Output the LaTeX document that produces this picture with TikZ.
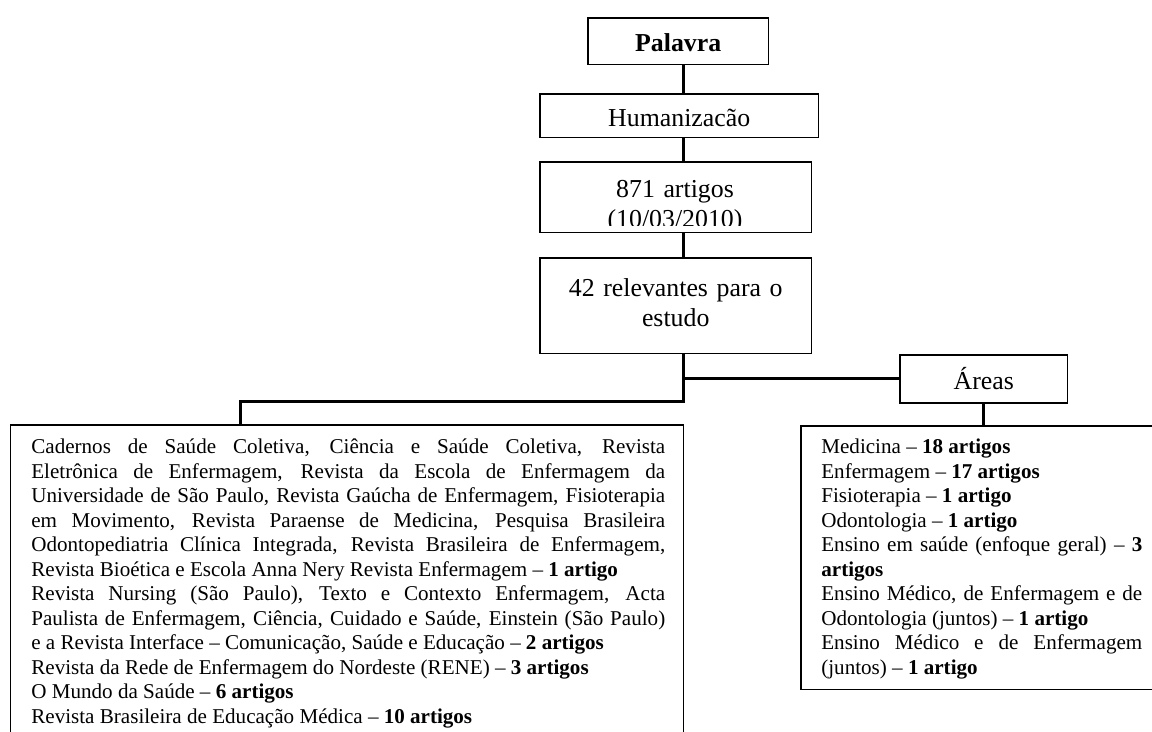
\documentclass[tikz,border=0pt]{standalone}
\usepackage{fontspec}
\setmainfont{Liberation Serif}
\usepackage{tikz}
\setlength{\parindent}{0pt}
\tolerance=10000
\hbadness=10000
\hyphenpenalty=10000

\tikzset{
  box/.style={draw, line width=0.03cm, inner sep=0pt, anchor=north west},
  link/.style={line width=0.06cm},
  headtext/.style={font=\fontsize{14.7}{17}\selectfont, align=center},
  headbox/.style={box, headtext, text height=12pt, text depth=0pt},
  bodytext/.style={font=\fontsize{12}{13.95}\selectfont, inner sep=0pt, anchor=north west, align=justify},
}

\begin{document}
\begin{tikzpicture}[x=0.02cm, y=-0.02cm]
    \useasboundingbox (0,0) rectangle (1152,731);
    \clip (0,0) rectangle (1152,731);
    \fill[white] (0,0) rectangle (1152,731);

    \coordinate (fork) at (683,401);
    \coordinate (jdrop) at (240,401);

    \node[headbox, minimum width=3.62cm, minimum height=0.94cm] (palavra) at (587,17) {\textbf{Palavra}};
    \node[headbox, minimum width=5.58cm, minimum height=0.88cm] (human) at (539,93) {Humanizacão};
    \node[box, minimum width=5.44cm, minimum height=1.42cm] (artigos) at (539,161) {};
    \begin{scope}
        \clip (artigos.north west) rectangle ([yshift=0.16cm]artigos.south east);
        \node[headtext, anchor=north, text width=5.44cm, inner sep=0pt] (artigostxt) at (675,176)
            {\strut 871 artigos\\(10/03/2010)};
    \end{scope}
    \node[box, headtext, text width=5.44cm, minimum height=1.92cm] (relev) at (539,257)
        {\strut 42 relevantes para o\\estudo\strut};
    \node[headbox, minimum width=3.36cm, minimum height=0.96cm] (areas) at (899,354) {Áreas};

    \node[box, minimum width=13.46cm, minimum height=6.8cm] (journals) at (10,424) {};
    \node[bodytext, text width=12.68cm] (journalstxt) at (31,436) {\strut Cadernos de Saúde Coletiva, Ciência e Saúde Coletiva, Revista\linebreak
        Eletrônica de Enfermagem, Revista da Escola de Enfermagem da\linebreak
        Universidade de São Paulo, Revista Gaúcha de Enfermagem, Fisioterapia\linebreak
        em Movimento, Revista Paraense de Medicina, Pesquisa Brasileira\linebreak
        Odontopediatria Clínica Integrada, Revista Brasileira de Enfermagem,\linebreak
        Revista Bioética e Escola Anna Nery Revista Enfermagem – \textbf{1 artigo}\par
        Revista Nursing (São Paulo), Texto e Contexto Enfermagem, Acta\linebreak
        Paulista de Enfermagem, Ciência, Cuidado e Saúde, Einstein (São Paulo)\linebreak
        e a Revista Interface – Comunicação, Saúde e Educação – \textbf{2 artigos}\par
        Revista da Rede de Enfermagem do Nordeste (RENE) – \textbf{3 artigos}\par
        O Mundo da Saúde – \textbf{6 artigos}\par
        Revista Brasileira de Educação Médica – \textbf{10 artigos}};

    \node[box, minimum width=8cm, minimum height=5.28cm] (fields) at (800,425) {};
    \begin{scope}
        \clip (fields.north west) rectangle ([yshift=0.24cm]fields.south east);
        \node[bodytext, text width=6.42cm] (fieldstxt) at (821,436) {\strut Medicina – \textbf{18 artigos}\par
            Enfermagem – \textbf{17 artigos}\par
            Fisioterapia – \textbf{1 artigo}\par
            Odontologia – \textbf{1 artigo}\par
            Ensino em saúde (enfoque geral) – \textbf{3}\linebreak \textbf{artigos}\par
            Ensino Médico, de Enfermagem e de\linebreak Odontologia (juntos) – \textbf{1 artigo}\par
            Ensino Médico e de Enfermagem\linebreak (juntos) – \textbf{1 artigo}};
    \end{scope}

    \draw[link] (palavra.south -| fork) -- (human.north -| fork);
    \draw[link] (human.south -| fork) -- (artigos.north -| fork);
    \draw[link] (artigos.south -| fork) -- (relev.north -| fork);
    \draw[link] (relev.south -| fork) -- (fork) -- (jdrop) -- (journals.north -| jdrop);
    \draw[link] (fork |- areas.west) -- (areas.west);
    \draw[link] (areas.south) -- (areas.south |- fields.north);
\end{tikzpicture}
\end{document}
